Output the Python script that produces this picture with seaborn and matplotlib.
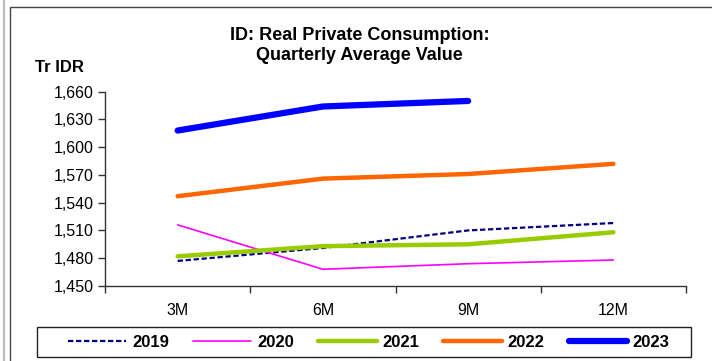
import matplotlib
matplotlib.use("Agg")
import pandas as pd
import matplotlib.pyplot as plt
from matplotlib.patches import Rectangle
from matplotlib.ticker import FixedLocator, FuncFormatter
import seaborn as sns

# Data (Tr IDR)
periods = ['3M', '6M', '9M', '12M']
y2019 = [1477, 1491, 1510, 1518]
y2020 = [1516, 1468, 1474, 1478]
y2021 = [1482, 1493, 1495, 1508]
y2022 = [1547, 1566, 1571, 1582]
y2023 = [1618, 1644, 1650]

series = {'2019': y2019, '2020': y2020, '2021': y2021, '2022': y2022, '2023': y2023}
colors = {'2019': '#000080', '2020': '#FF00FF', '2021': '#99CC00',
          '2022': '#FF6600', '2023': '#0000FF'}
widths = {'2019': 1.6, '2020': 1.2, '2021': 3.2, '2022': 3.2, '2023': 4.5}

sns.set_style('white')
plt.rcParams['font.family'] = ['Liberation Sans', 'DejaVu Sans']
plt.rcParams['text.color'] = 'black'
plt.rcParams['xtick.color'] = 'black'
plt.rcParams['ytick.color'] = 'black'

fig = plt.figure(figsize=(7.12, 3.61), dpi=100)
ax = fig.add_axes([0.1475, 0.208, 0.816, 0.538])

for name, vals in series.items():
    df = pd.DataFrame({'period': periods[:len(vals)], 'value': vals})
    sns.lineplot(data=df, x='period', y='value', ax=ax, color=colors[name],
                 linewidth=widths[name], sort=False, label=name,
                 solid_capstyle='round', dash_capstyle='butt')
    if name == '2019':
        ax.lines[-1].set_dashes([2.4, 1.2])

ax.set_xlim(-0.5, 3.5)
ax.set_ylim(1450, 1660)
ax.yaxis.set_major_locator(FixedLocator(range(1450, 1661, 30)))
ax.yaxis.set_major_formatter(FuncFormatter(lambda v, p: f'{int(v):,}'))
ax.set_xticks(range(len(periods)))
ax.set_xticklabels(periods)
ax.set_xticks([i - 0.5 for i in range(len(periods) + 1)], minor=True)
ax.tick_params(axis='x', which='major', length=0, pad=12, labelsize=11.5)
ax.tick_params(axis='x', which='minor', length=5, width=1, color='#333333', direction='out', bottom=True)
ax.tick_params(axis='y', length=5, width=1, color='#333333', direction='out', left=True, labelsize=11.5, pad=3)
ax.set_xlabel('')
ax.set_ylabel('')
for side in ['top', 'right']:
    ax.spines[side].set_visible(False)
for side in ['left', 'bottom']:
    ax.spines[side].set_color('#333333')
    ax.spines[side].set_linewidth(1)

ax.legend_.remove()
handles, labels = ax.get_legend_handles_labels()
fig.legend(handles, labels, ncol=5, loc='center',
           bbox_to_anchor=(0.518, 0.052), frameon=False,
           handlelength=3.5, columnspacing=1.45, handletextpad=0.35,
           prop={'weight': 'bold', 'size': 12})
# legend box
fig.patches.append(Rectangle((37 / 712, 4 / 361), 654 / 712, 30 / 361,
                             transform=fig.transFigure, fill=False,
                             edgecolor='#222222', linewidth=1))

fig.text(0.505, 1 - 35 / 361, 'ID: Real Private Consumption:', ha='center', va='center',
         fontsize=13, fontweight='bold')
fig.text(0.505, 1 - 56 / 361, 'Quarterly Average Value', ha='center', va='center',
         fontsize=13, fontweight='bold')
fig.text(0.049, 1 - 67 / 361, 'Tr IDR', ha='left', va='center', fontsize=12, fontweight='bold')

# outer chart frame
fig.patches.append(Rectangle((0.014, -0.01), 1.0, 0.99, transform=fig.transFigure,
                             fill=False, edgecolor='#444444', linewidth=1))
fig.patches.append(Rectangle((0.005, -0.01), 0.0, 1.02, transform=fig.transFigure,
                             fill=False, edgecolor='#bbbbbb', linewidth=1.5))

fig.savefig('out.png', dpi=100)
